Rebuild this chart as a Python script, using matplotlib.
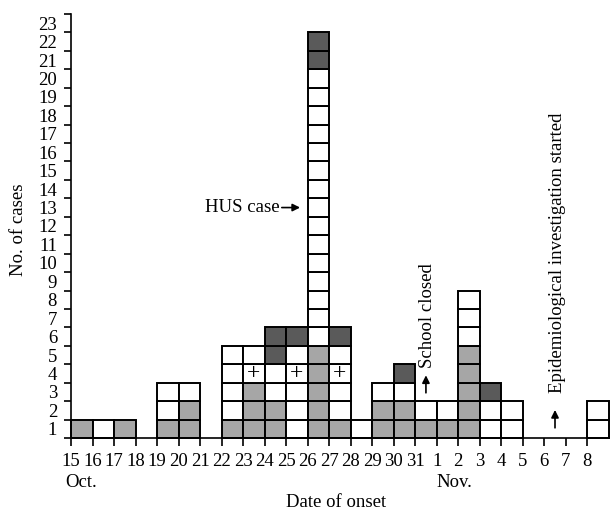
import matplotlib.pyplot as plt

plt.rcParams['font.family'] = ['Liberation Serif', 'DejaVu Serif']
plt.rcParams['font.size'] = 13.5

# onset dates, Oct. 15 .. Nov. 8
dates = ['15', '16', '17', '18', '19', '20', '21', '22', '23', '24', '25',
         '26', '27', '28', '29', '30', '31',
         '1', '2', '3', '4', '5', '6', '7', '8']

# cases per day, bottom to top
# g = light grey, w = white, p = white with "+", d = dark grey
cells = ['g', 'w', 'g', '', 'gww', 'ggw', '', 'gwwww', 'gggpw', 'ggwwdd',
         'wwwpwd', 'ggggg' + 'w' * 15 + 'dd', 'gwwpwd', 'w', 'ggw', 'ggwd',
         'gw', 'gw', 'gggggwww', 'wwd', 'ww', '', '', '', 'ww']

fills = {'g': '#a6a6a6', 'w': 'white', 'p': 'white', 'd': '#5a5a5a'}
y_max = 23


def main():
    fig = plt.figure(figsize=(6.1, 5.11), dpi=100)
    ax = fig.add_axes([0.1164, 0.1429, 0.8816, 0.8297])

    for i, col in enumerate(cells):
        for j, c in enumerate(col):
            ax.bar(i + 0.5, 1, bottom=j, width=1, color=fills[c],
                   edgecolor='black', linewidth=1.4, clip_on=False)
            if c == 'p':
                ax.text(i + 0.5, j + 0.5, '+', ha='center', va='center',
                        fontsize=17)

    ax.set_xlim(0, len(dates))
    ax.set_ylim(0, y_max)

    for s in ['top', 'right']:
        ax.spines[s].set_visible(False)
    for s in ['left', 'bottom']:
        ax.spines[s].set_linewidth(1.2)

    ax.set_xticks(range(len(dates)))
    ax.set_xticklabels(dates)
    ax.tick_params(axis='x', length=5.5, width=1.2, pad=5)

    ax.set_yticks(range(y_max + 1))
    ax.set_yticklabels([])
    ax.set_yticks([k + 0.5 for k in range(y_max)], minor=True)
    ax.set_yticklabels([str(k + 1) for k in range(y_max)], minor=True)
    ax.tick_params(axis='y', which='major', length=5, width=1.2)
    ax.tick_params(axis='y', which='minor', length=0, pad=10)

    xt = ax.get_xaxis_transform()
    ax.text(-0.28, -0.106, 'Oct.', transform=xt, ha='left', va='center')
    ax.text(17.0, -0.106, 'Nov.', transform=xt, ha='left', va='center')
    ax.text(0.4926, -0.153, 'Date of onset', transform=ax.transAxes,
            ha='center', va='center')
    fig.text(19 / 610, 1 - 230 / 511, 'No. of cases', rotation=90,
             ha='center', va='center')

    arrow = dict(arrowstyle='-|>', color='black', lw=1.2, mutation_scale=11,
                 shrinkA=0, shrinkB=0)
    ax.annotate('', xy=(10.65, 12.5), xytext=(9.8, 12.5), arrowprops=arrow)
    ax.text(9.7, 12.5, 'HUS case', ha='right', va='center')

    ax.annotate('', xy=(16.5, 3.4), xytext=(16.5, 2.45), arrowprops=arrow)
    ax.text(16.55, 3.8, 'School closed', rotation=90, ha='center',
            va='bottom')

    ax.annotate('', xy=(22.5, 1.52), xytext=(22.5, 0.55), arrowprops=arrow)
    ax.text(22.6, 2.44, 'Epidemiological investigation started',
            rotation=90, ha='center', va='bottom')

    fig.savefig('out.png', dpi=100)


if __name__ == "__main__":
    main()
